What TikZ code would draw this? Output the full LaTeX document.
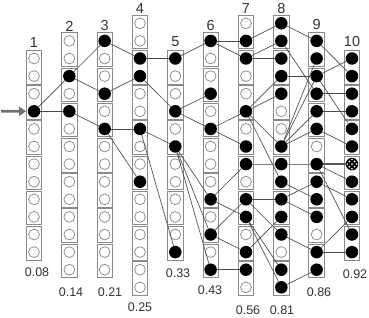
\documentclass[tikz,border=0pt]{standalone}
\usepackage{fontspec}
\setmainfont{Liberation Sans}
\usetikzlibrary{arrows.meta}
\definecolor{boxgray}{HTML}{8A8A8A}
\definecolor{linkgray}{HTML}{4A4A4A}
\definecolor{labgray}{HTML}{333333}
\definecolor{arrowgray}{HTML}{707070}
\begin{document}
\begin{tikzpicture}[x=1pt,y=-1pt,
  cbox/.style={draw=boxgray, line width=0.9pt},
  emptyc/.style={circle, draw=boxgray, fill=white, line width=0.75pt, minimum size=10.8pt, inner sep=0pt},
  fullc/.style={circle, fill=black, minimum size=12.5pt, inner sep=0pt},
  link/.style={draw=linkgray, line width=0.65pt},
  midlink/.style={draw=gray, line width=1.1pt},
  outlink/.style={draw=black!65, line width=2pt},
  toplab/.style={font=\fontsize{14.5}{15}\selectfont, text=labgray, inner sep=0pt},
  botlab/.style={font=\fontsize{12.5}{13}\selectfont, text=labgray, inner sep=0pt},
]
\useasboundingbox (0,0) rectangle (369,318);
% boxes
\foreach \c/\a/\b in {1/2/13,2/1/14,3/1/14,4/0/15,5/2/13,6/1/14,7/0/15,8/0/15,9/1/14,10/2/13}{
  \pgfmathsetmacro\xx{34+35.33*(\c-1)}
  \pgfmathtruncatemacro\nb{(\b-\a-1)/2}
  \foreach \k in {0,...,\nb}{
    \pgfmathsetmacro\ytop{23.3+17.6*(\a+2*\k)-8}
    \pgfmathsetmacro\ybot{23.3+17.6*(\a+2*\k+1)+8}
    \draw[cbox] (\xx-7.7,\ytop) rectangle (\xx+7.7,\ybot);
  }
}
% empty circles
\foreach \c/\r in {1/2,1/3,1/4,1/6,1/7,1/8,1/9,1/10,1/11,1/12,1/13,
  2/1,2/2,2/4,2/6,2/7,2/8,2/9,2/10,2/11,2/12,2/13,2/14,
  3/2,3/3,3/5,3/7,3/8,3/9,3/10,3/11,3/12,3/13,3/14,
  4/0,4/1,4/4,4/5,4/7,4/8,4/10,4/11,4/12,4/13,4/14,4/15,
  5/3,5/4,5/6,5/8,5/9,5/10,5/11,5/12,
  6/2,6/3,6/5,6/7,6/8,6/9,6/11,6/13,
  7/0,7/3,7/4,7/6,7/9,7/12,7/15,
  8/5,8/6,8/13,
  9/7,9/12}
  \node[emptyc] (n\c r\r) at ({34+35.33*(\c-1)},{23.3+17.6*\r}) {};
% filled circles
\foreach \c/\r in {1/5, 2/3,2/5, 3/1,3/4,3/6, 4/2,4/3,4/6,4/9, 5/2,5/5,5/7,5/13,
  6/1,6/4,6/6,6/10,6/12,6/14,
  7/1,7/2,7/5,7/7,7/8,7/10,7/11,7/13,7/14,
  8/0,8/1,8/2,8/3,8/4,8/7,8/8,8/9,8/10,8/11,8/12,8/14,8/15,
  9/1,9/2,9/3,9/4,9/5,9/6,9/8,9/9,9/10,9/11,9/13,9/14,
  10/2,10/3,10/4,10/5,10/6,10/7,10/8,10/9,10/10,10/11,10/12,10/13}
  \node[fullc] (n\c r\r) at ({34+35.33*(\c-1)},{23.3+17.6*\r}) {};
% checkered output circle
\foreach \dx/\dy in {-2.6/-2.6,2.6/-2.6,0/0,-2.6/2.6,2.6/2.6,0/-4.6,0/4.6,-4.6/0,4.6/0}
  \fill[white] ([shift={(\dx,\dy)}]n10r8.center) circle (0.95);
% connections
\foreach \p/\q in {1r5/2r3,1r5/2r5,
  2r3/3r1,2r3/3r4,2r5/3r6,
  3r1/4r2,3r4/4r3,3r6/4r6,3r6/4r9,
  4r2/5r2,4r3/5r5,4r6/5r7,4r6/5r13,
  5r2/6r1,5r5/6r4,5r5/6r6,5r7/6r10,5r7/6r12,5r7/6r14,
  6r1/7r1,6r1/7r2,6r6/7r5,6r6/7r7,6r10/7r8,6r10/7r11,6r12/7r10,6r12/7r13,6r14/7r14,
  7r1/8r0,7r2/8r1,7r2/8r2,7r5/8r3,7r5/8r4,7r5/8r7,7r5/8r9,7r10/8r10,7r10/8r12,7r11/8r14,7r11/8r15,7r13/8r11,
  8r0/9r1,8r1/9r4,8r3/9r3,8r7/9r2,8r7/9r3,8r7/9r5,8r7/9r6,8r9/9r10,8r10/9r9,8r10/9r11,8r12/9r13,8r15/9r14,
  9r1/10r3,9r3/10r2,9r3/10r6,9r4/10r4,9r5/10r5,9r6/10r7,9r8/10r9,9r8/10r12,9r9/10r10,9r13/10r13,9r13/10r11}
  \draw[link] (n\p) -- (n\q);
\draw[midlink] (n7r8) -- (n8r8);
\draw[midlink] (n8r8) -- (n9r8);
\draw[outlink] (n9r8) -- (n10r8);
% input arrow
\coordinate (inarrow) at (1,111.3);
\draw[arrowgray, line width=2.6pt, -{Triangle[length=7pt,width=9pt]}, shorten >=1.5pt] (inarrow) -- (n1r5);
% column labels
\node[toplab] (t1) at (34,43) {1};
\node[toplab] (t2) at (69.3,26) {2};
\node[toplab] (t3) at (104.7,26) {3};
\node[toplab] (t4) at (140,8.5) {4};
\node[toplab] (t5) at (175.3,42) {5};
\node[toplab] (t6) at (210.7,26) {6};
\node[toplab] (t7) at (246,8.5) {7};
\node[toplab] (t8) at (281.3,8.5) {8};
\node[toplab] (t9) at (316.6,25) {9};
\node[toplab] (t10) at (352,42) {10};
% values
\node[botlab] (b1) at (37,272) {0.08};
\node[botlab] (b2) at (71,292) {0.14};
\node[botlab] (b3) at (110,292) {0.21};
\node[botlab] (b4) at (140,307) {0.25};
\node[botlab] (b5) at (178,273.5) {0.33};
\node[botlab] (b6) at (210,290.5) {0.43};
\node[botlab] (b7) at (248,310) {0.56};
\node[botlab] (b8) at (282,310) {0.81};
\node[botlab] (b9) at (319,292) {0.86};
\node[botlab] (b10) at (355,274) {0.92};
\end{tikzpicture}
\end{document}
